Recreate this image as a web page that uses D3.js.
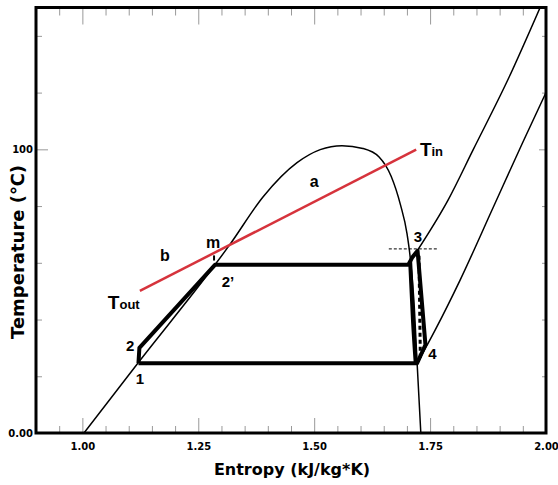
<!DOCTYPE html>
<html>
<head>
<meta charset="utf-8">
<title>T-s diagram</title>
<script src="https://d3js.org/d3.v7.min.js"></script>
<style>
  body { margin: 0; background: #fff; }
  text { font-family: "DejaVu Sans", sans-serif; font-weight: bold; }
  .lbl { font-family: "Liberation Sans", Arial, sans-serif; }
</style>
</head>
<body>
<svg id="chart" width="558" height="485"></svg>
<script>

// saturation dome (entropy, temperature), liquid side then vapour side
var liquidLine = [[1.0035, 0], [1.120, 24.7], [1.286, 59.3], [1.318, 66.4], [1.390, 83.3],
                  [1.463, 95.3], [1.513, 99.9], [1.560, 101.3]];
var vaporLine = [[1.605, 100.3], [1.640, 97.3], [1.666, 90.5], [1.686, 80.5], [1.700, 70.5],
                 [1.707, 62.1], [1.715, 46.9], [1.722, 24.7], [1.730, 0]];

// superheated isobars
var highIsobar = [[1.722, 64.2], [1.789, 82.2], [1.843, 99.9], [1.918, 124.6], [1.990, 151]];
var lowIsobar = [[1.724, 25.1], [1.760, 36.0], [1.815, 54.0], [1.886, 79.5], [1.950, 102.5], [2.0, 120]];

// cycle 1 - 2 - 2' - 3 - 4
var cycle = [[1.121, 24.6], [1.123, 30.0], [1.286, 59.3], [1.703, 59.3], [1.712, 62.0],
             [1.723, 64.2], [1.740, 31.1], [1.722, 24.6], [1.121, 24.6]];
var satLeg = [[1.707, 60.5], [1.713, 40.0], [1.719, 24.6]];
var dashedLeg = [[1.726, 62.5], [1.729, 26.5]];
var level3 = [[1.661, 64.9], [1.767, 64.9]];
var mMark = [[1.284, 62.6], [1.284, 60.8]];

// heat source line
var sourceLine = [[1.124, 50.1], [1.720, 99.9]];

var labels = [
  {t: "a", s: 1.500, T: 88.6, size: 16},
  {t: "b", s: 1.178, T: 62.8, size: 16},
  {t: "m", s: 1.282, T: 67.1, size: 16},
  {t: "1", s: 1.124, T: 19.1, size: 15},
  {t: "2", s: 1.103, T: 30.7, size: 15},
  {t: "2\u2019", s: 1.314, T: 53.3, size: 15},
  {t: "3", s: 1.724, T: 69.2, size: 15},
  {t: "4", s: 1.755, T: 27.9, size: 15}
];
var tLabels = [
  {main: "T", sub: "in", s: 1.728, T: 99.6},
  {main: "T", sub: "out", s: 1.055, T: 45.9}
];

var xMajor = [1.00, 1.25, 1.50, 1.75];
var xMinor = d3.range(19, 40).map(function(i){ return i / 20; }).filter(function(v){
  return xMajor.indexOf(v) < 0; });
var yMajor = [0, 100];
var yMinor = [20, 40, 60, 80, 120, 140];
var yTickText = {0: "0.00", 100: "100"};

var svg = d3.select("#chart");
var x = d3.scaleLinear().domain([0.9, 2.0]).range([36, 546]);
var y = d3.scaleLinear().domain([0, 150]).range([433, 7.5]);

svg.append("defs").append("clipPath").attr("id", "plot")
  .append("rect").attr("x", 36).attr("y", 7.5).attr("width", 510).attr("height", 425.5);

// ticks
function styleAxis(g) {
  g.select(".domain").remove();
  g.selectAll(".tick line").attr("stroke", "#999").attr("stroke-width", 1);
  g.selectAll(".tick text").attr("fill", "#000").style("font-size", "10px");
}
svg.append("g").attr("transform", "translate(0,433)")
  .call(d3.axisBottom(x).tickValues(xMinor).tickSize(-7).tickFormat("")).call(styleAxis);
svg.append("g").attr("transform", "translate(0,433)")
  .call(d3.axisBottom(x).tickValues(xMajor.concat([2.0])).tickSize(-15).tickPadding(10)
  .tickFormat(d3.format(".2f"))).call(styleAxis);
svg.append("g").attr("transform", "translate(0,7.5)")
  .call(d3.axisTop(x).tickValues(xMinor).tickSize(-8).tickFormat("")).call(styleAxis);
svg.append("g").attr("transform", "translate(0,7.5)")
  .call(d3.axisTop(x).tickValues(xMajor).tickSize(-17).tickFormat("")).call(styleAxis);
svg.append("g").attr("transform", "translate(36,0)")
  .call(d3.axisLeft(y).tickValues(yMinor).tickSize(-6).tickFormat("")).call(styleAxis);
svg.append("g").attr("transform", "translate(36,0)")
  .call(d3.axisLeft(y).tickValues(yMajor).tickSize(-12).tickPadding(3)
  .tickFormat(function(d){ return yTickText[d]; })).call(styleAxis);
svg.append("g").attr("transform", "translate(546,0)")
  .call(d3.axisRight(y).tickValues(yMinor).tickSize(-4).tickFormat("")).call(styleAxis);
svg.append("g").attr("transform", "translate(546,0)")
  .call(d3.axisRight(y).tickValues([100]).tickSize(-7).tickFormat("")).call(styleAxis);

// curves
var smooth = d3.line().x(function(d){ return x(d[0]); }).y(function(d){ return y(d[1]); })
  .curve(d3.curveMonotoneX);
var straight = d3.line().x(function(d){ return x(d[0]); }).y(function(d){ return y(d[1]); });

var plot = svg.append("g").attr("clip-path", "url(#plot)");
[liquidLine.concat(vaporLine), highIsobar, lowIsobar].forEach(function(c){
  plot.append("path").attr("d", smooth(c)).attr("fill", "none")
    .attr("stroke", "#000").attr("stroke-width", 1.5);
});

plot.append("path").attr("d", straight(sourceLine)).attr("fill", "none")
  .attr("stroke", "#d6333c").attr("stroke-width", 2.5);

plot.append("path").attr("d", straight(cycle)).attr("fill", "none")
  .attr("stroke", "#000").attr("stroke-width", 4).attr("stroke-linejoin", "round");
plot.append("path").attr("d", smooth(satLeg)).attr("fill", "none")
  .attr("stroke", "#000").attr("stroke-width", 4);
plot.append("path").attr("d", straight(dashedLeg)).attr("fill", "none")
  .attr("stroke", "#000").attr("stroke-width", 3).attr("stroke-dasharray", "4,3");
plot.append("path").attr("d", straight(level3)).attr("fill", "none")
  .attr("stroke", "#000").attr("stroke-width", 1).attr("stroke-dasharray", "3,2");
plot.append("path").attr("d", straight(mMark)).attr("fill", "none")
  .attr("stroke", "#000").attr("stroke-width", 2);

// frame
svg.append("rect").attr("x", 36).attr("y", 7.5).attr("width", 510).attr("height", 425.5)
  .attr("fill", "none").attr("stroke", "#000").attr("stroke-width", 3);

// annotations
svg.selectAll("text.pt").data(labels).enter().append("text")
  .attr("class", "pt lbl")
  .attr("x", function(d){ return x(d.s); }).attr("y", function(d){ return y(d.T); })
  .attr("dy", "0.36em").attr("text-anchor", "middle")
  .style("font-size", function(d){ return d.size + "px"; })
  .text(function(d){ return d.t; });

var tl = svg.selectAll("text.tt").data(tLabels).enter().append("text")
  .attr("class", "tt lbl")
  .attr("x", function(d){ return x(d.s); }).attr("y", function(d){ return y(d.T); })
  .attr("dy", "0.36em");
tl.append("tspan").style("font-size", "19px").text(function(d){ return d.main; });
tl.append("tspan").style("font-size", "13px").text(function(d){ return d.sub; });

// axis titles
svg.append("text").attr("x", 292).attr("y", 475).attr("text-anchor", "middle")
  .style("font-size", "16px").text("Entropy (kJ/kg*K)");
svg.append("text").attr("transform", "translate(24,252) rotate(-90)")
  .attr("text-anchor", "middle").style("font-size", "18px").text("Temperature (\u2103)");

</script>
</body>
</html>
